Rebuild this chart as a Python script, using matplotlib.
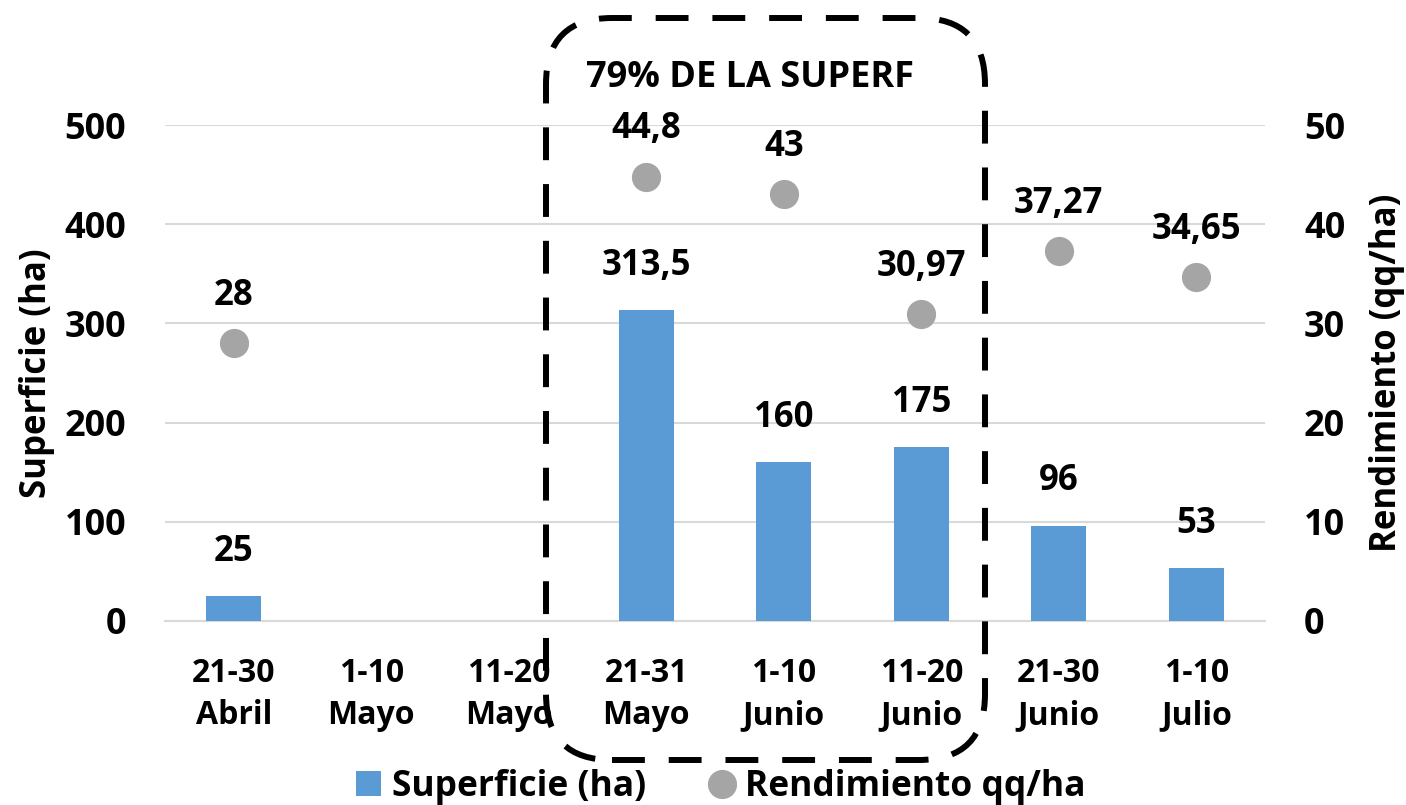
import numpy as np
import matplotlib
matplotlib.use("Agg")
import matplotlib.pyplot as plt
from matplotlib.patches import FancyBboxPatch, Patch
from matplotlib.lines import Line2D

plt.rcParams['font.family'] = ['Open Sans', 'DejaVu Sans']
plt.rcParams['font.weight'] = 'bold'

categorias = ['21-30\nAbril', '1-10\nMayo', '11-20\nMayo', '21-31\nMayo',
              '1-10\nJunio', '11-20\nJunio', '21-30\nJunio', '1-10\nJulio']
superficie = [25, np.nan, np.nan, 313.5, 160, 175, 96, 53]
rendimiento = [28, np.nan, np.nan, 44.8, 43, 30.97, 37.27, 34.65]

def fmt(v):
    return ('%g' % v).replace('.', ',')

fig = plt.figure(figsize=(14.06, 8.05), dpi=100)
ax = fig.add_axes([0.1174, 0.2286, 0.7824, 0.6161])
ax2 = ax.twinx()

x = np.arange(len(categorias))
ax.bar(x, superficie, width=0.4, color='#5B9BD5', zorder=3)
ax2.plot(x, rendimiento, 'o', color='#A5A5A5', markersize=20, zorder=3)

for xi, v in zip(x, superficie):
    if not np.isnan(v):
        ax.annotate(fmt(v), (xi, v), xytext=(0, 32), textcoords='offset points',
                    ha='center', va='center', fontsize=25, fontweight='bold')
for xi, v in zip(x, rendimiento):
    if not np.isnan(v):
        ax2.annotate(fmt(v), (xi, v), xytext=(0, 34), textcoords='offset points',
                     ha='center', va='center', fontsize=25, fontweight='bold')

ax.set_xlim(-0.5, len(categorias) - 0.5)
ax.set_ylim(0, 500)
ax2.set_ylim(0, 50)
ax.set_yticks(range(0, 501, 100))
ax2.set_yticks(range(0, 51, 10))
ax.set_xticks(x)
ax.set_xticklabels(categorias, fontsize=23, fontweight='bold', linespacing=1.35)
ax.tick_params(axis='x', length=0, pad=26)
ax.tick_params(axis='y', length=0, labelsize=26, pad=28)
ax2.tick_params(axis='y', length=0, labelsize=26, pad=28)
ax.grid(axis='y', color='#D9D9D9', linewidth=1.5, zorder=0)
for a in (ax, ax2):
    for s in a.spines.values():
        s.set_visible(False)
ax.spines['bottom'].set_visible(True)
ax.spines['bottom'].set_color('#D9D9D9')
ax.spines['bottom'].set_linewidth(1.5)

ax.set_ylabel('Superficie (ha)', fontsize=25, fontweight='bold', labelpad=7)
ax2.set_ylabel('Rendimiento (qq/ha)', fontsize=25, fontweight='bold', labelpad=17)

# recuadro punteado
caja = FancyBboxPatch((5.46, 0.45), 4.39, 7.42,
                      boxstyle='round,pad=0,rounding_size=0.66',
                      transform=fig.dpi_scale_trans, fill=False,
                      edgecolor='black', linewidth=4.3,
                      linestyle=(0, (5.5, 4)), zorder=5)
fig.add_artist(caja)
fig.text(750 / 1406, 1 - 78 / 805, '79% DE LA SUPERF', ha='center', va='center',
         fontsize=26, fontweight='bold')

handles = [Patch(facecolor='#5B9BD5', edgecolor='none'),
           Line2D([], [], marker='o', linestyle='none', color='#A5A5A5', markersize=20)]
fig.legend(handles, ['Superficie (ha)', 'Rendimiento qq/ha'], loc='center',
           bbox_to_anchor=(0.5 + 18 / 1406, 1 - 787 / 805), ncol=2, frameon=False,
           prop={'size': 25.5, 'weight': 'bold'}, handlelength=0.7, handleheight=0.7,
           handletextpad=0.3, columnspacing=1.8)

fig.savefig('out.png', dpi=100)
